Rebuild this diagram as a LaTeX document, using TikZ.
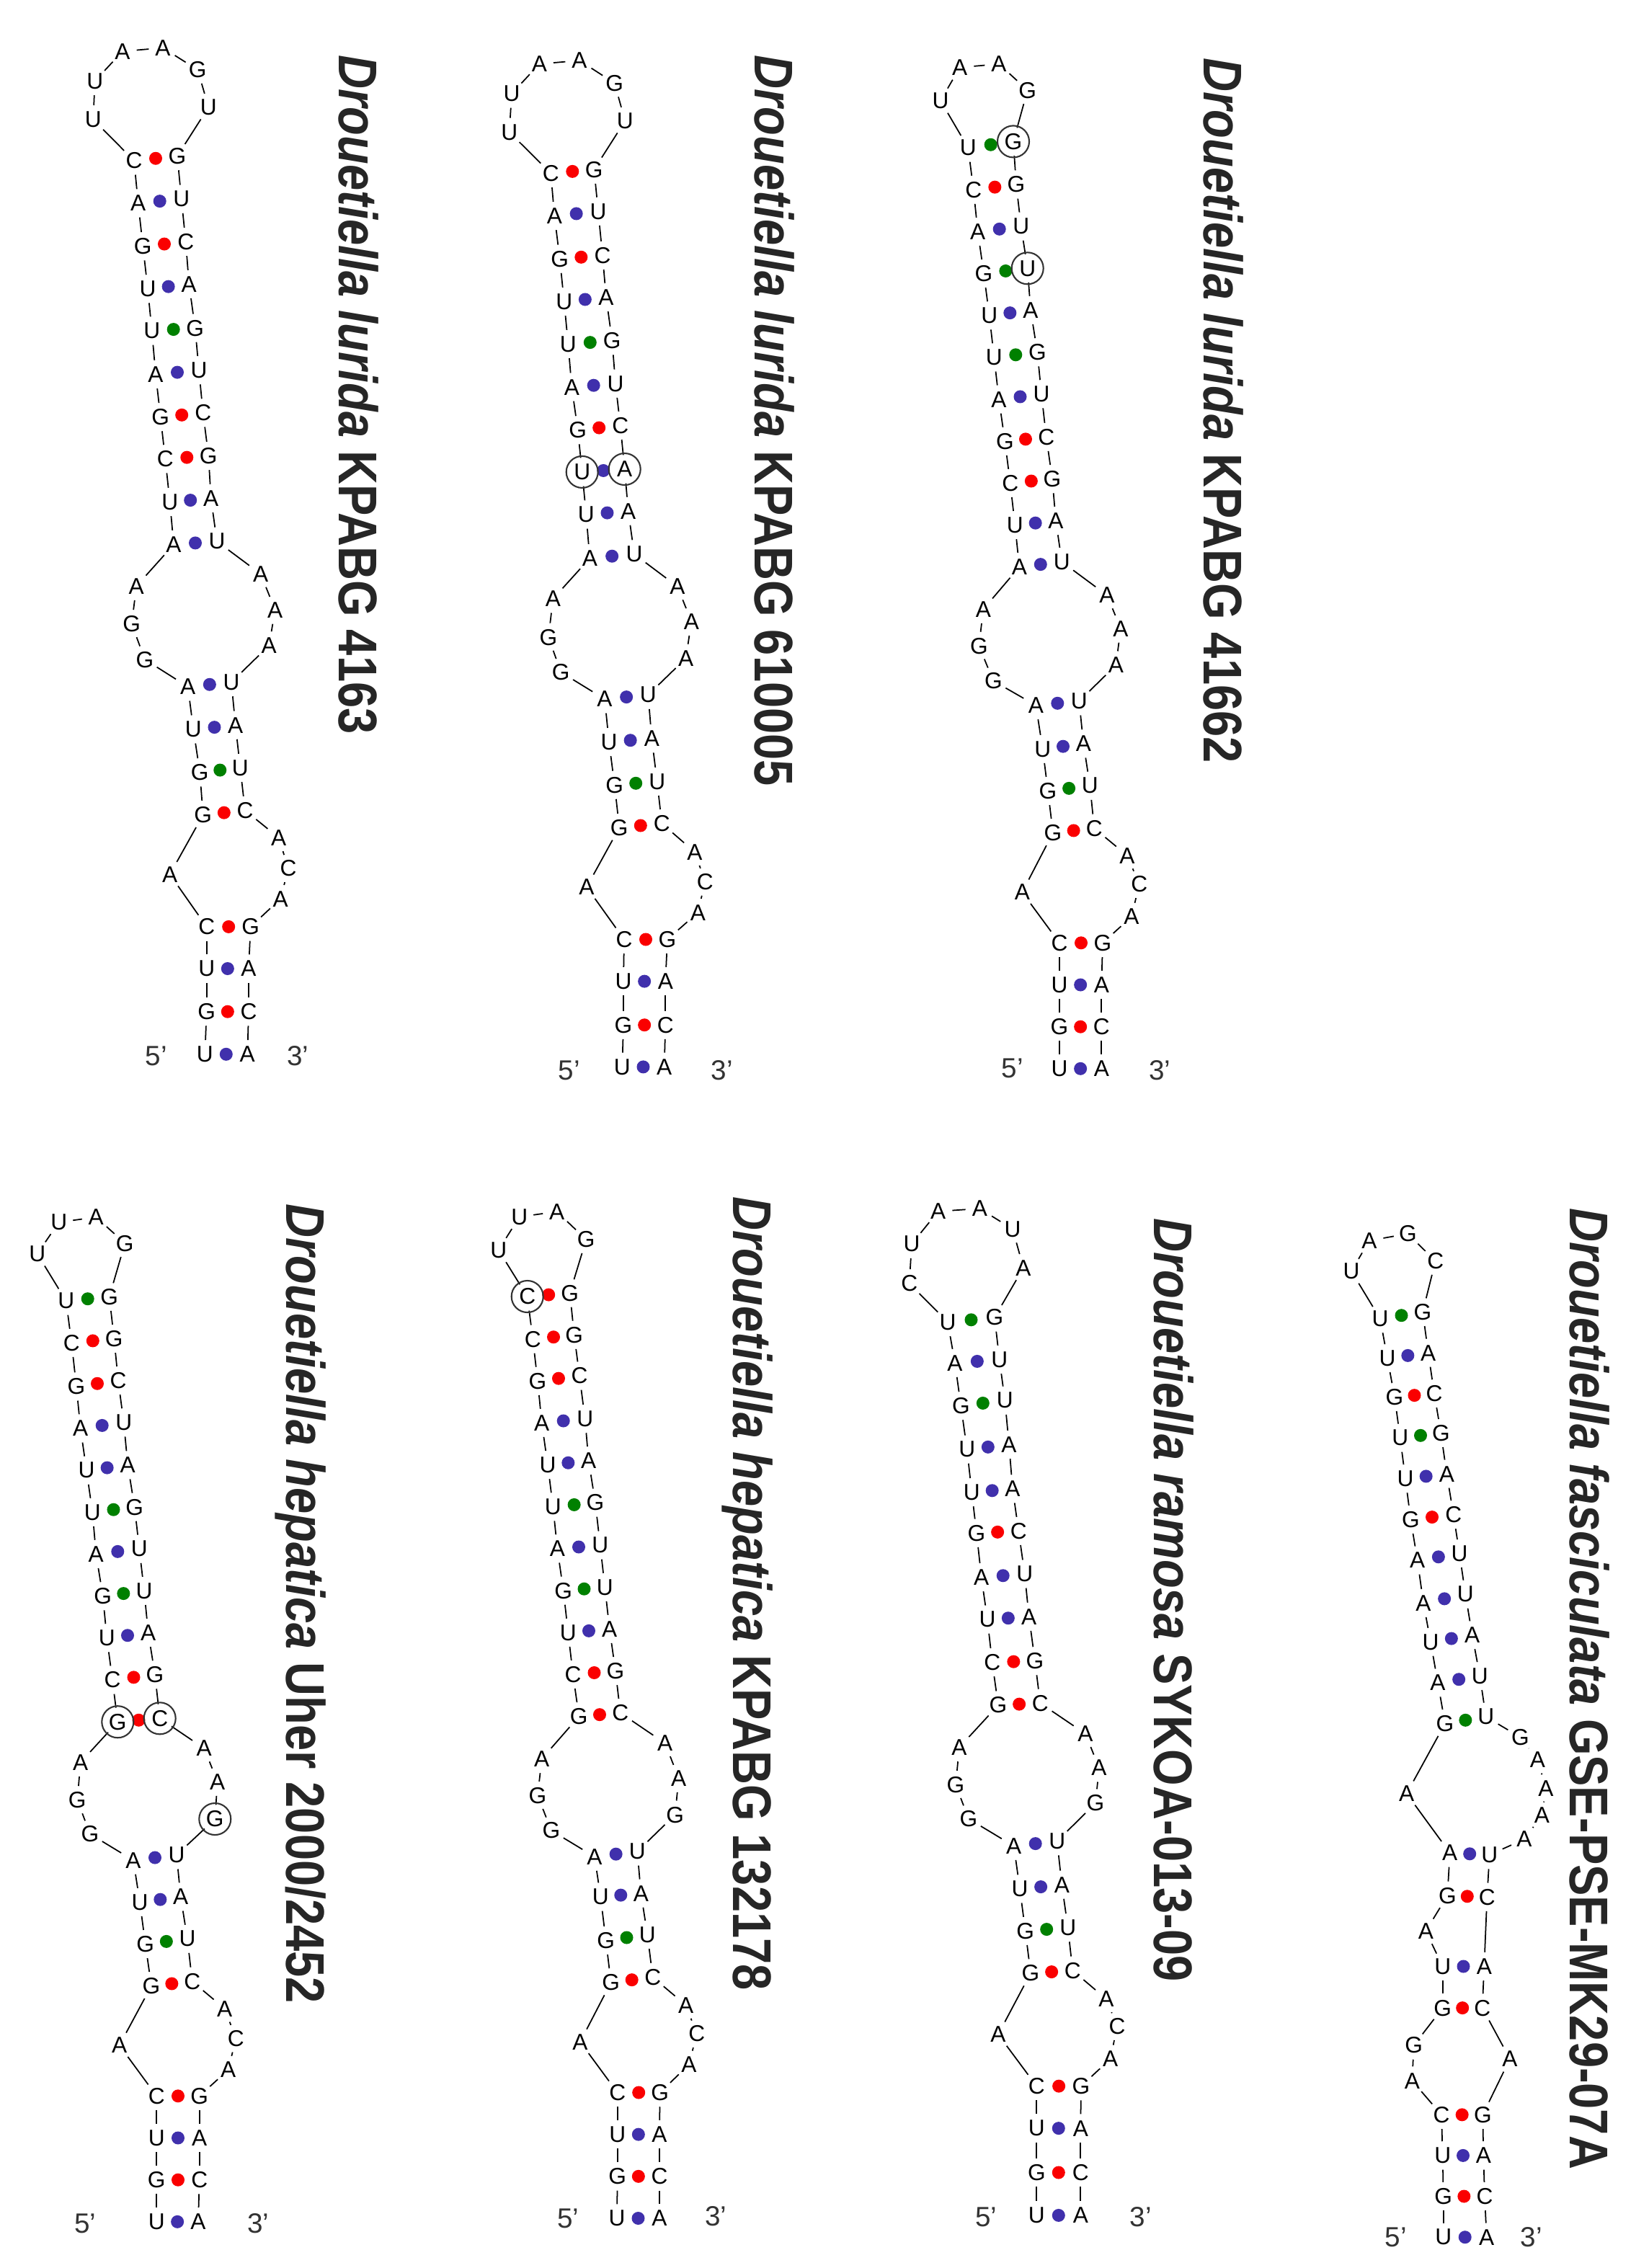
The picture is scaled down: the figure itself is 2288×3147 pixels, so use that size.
\documentclass[tikz,border=0pt]{standalone}
\usepackage{fontspec}
\setmainfont{Liberation Sans}
\usetikzlibrary{calc}
\definecolor{pr}{RGB}{250,0,0}
\definecolor{pb}{RGB}{64,48,172}
\definecolor{pg}{RGB}{0,128,0}
\begin{document}
\begin{tikzpicture}[x=0.01cm, y=-0.01cm,
  nt/.style={circle, inner sep=0pt, minimum size=0.38cm, font=\fontsize{9}{9}\selectfont},
  bb/.style={line width=0.5pt},
  endlbl/.style={inner sep=0pt, text=black!80, font=\fontsize{11}{11}\selectfont},
  ttl/.style={rotate=-90, anchor=west, inner sep=0pt, text=black!85, font=\fontsize{21.5}{21.5}\selectfont\bfseries},
  ring/.style={draw=black!80, line width=0.6pt}]
  \fill[white] (0,0) rectangle (2288,3147);
  \useasboundingbox (0,0) rectangle (2288,3147);

  \foreach \n/\x/\y/\l in {1/284.3/1462.8/U, 2/286.7/1403.7/G, 3/286.7/1344/U, 4/286.7/1285.9/C, 5/235.7/1213.2/A, 6/281.7/1130.8/G, 7/277.3/1071.7/G, 8/268.3/1012/U, 9/260.7/952.9/A, 10/201/915.1/G, 11/182.7/865.7/G, 12/189.3/813.3/A, 13/241/755.6/A, 14/235.7/696.5/U, 15/229.3/636.8/C, 16/222.7/578.7/G, 17/216/519.5/A, 18/210.7/459/U, 19/205/400.8/U, 20/198.3/341.7/G, 21/191.7/282/A, 22/186/222.9/C, 23/129.3/165.7/U, 24/131.7/112.4/U, 25/170/71.2/A, 26/226/66.4/A, 27/274.3/96.9/G, 28/289.3/148.8/U, 29/246/216.6/G, 30/251.7/276.2/U, 31/257.7/335.4/C, 32/262.3/394.5/A, 33/270.7/455.1/G, 34/276/513.7/U, 35/281.7/572.9/C, 36/289.3/632.5/G, 37/292.7/691.6/A, 38/301/751.2/U, 39/361.7/796.4/A, 40/381.7/846.3/A, 41/373.3/895.7/A, 42/321/946.6/U, 43/326.7/1006.2/A, 44/333.3/1065.4/U, 45/340/1124.5/C, 46/386.7/1162.3/A, 47/400/1205/C, 48/389.3/1247.1/A, 49/347.7/1285.9/G, 50/345/1344/A, 51/345/1403.7/C, 52/343.3/1462.8/A}
    \node[nt] (a\n) at (\x,\y) {\l};

  \foreach \n/\x/\y/\l in {1/863.3/1480.4/U, 2/865/1422.2/G, 3/865/1361.6/U, 4/866/1303.5/C, 5/814/1230.8/A, 6/859.3/1148.4/G, 7/852.7/1089.2/G, 8/845/1029.6/U, 9/839/970/A, 10/778.3/932.7/G, 11/761/884.2/G, 12/767.3/830.9/A, 13/818.3/774.6/A, 14/813.3/714/U, 15/807.7/654.9/U, 16/801.7/596.7/G, 17/793.3/537.1/A, 18/788.3/477.5/U, 19/782.7/418.4/U, 20/776.7/359.2/G, 21/769.3/299.6/A, 22/764.3/240.5/C, 23/706.7/183.3/U, 24/710/130/U, 25/748.3/88.8/A, 26/804/83.9/A, 27/852.7/115.4/G, 28/867.3/167.8/U, 29/824.3/235.2/G, 30/830/293.3/U, 31/836/354.4/C, 32/841/412.6/A, 33/849.3/472.7/G, 34/854/532.3/U, 35/860.7/590.4/C, 36/866.7/651/A, 37/871.7/709.2/A, 38/880/768.8/U, 39/940/813.9/A, 40/959.3/862.4/A, 41/951.7/913.3/A, 42/899.3/964.2/U, 43/904.3/1024.8/A, 44/911.7/1084.4/U, 45/918.3/1142.6/C, 46/964/1182.3/A, 47/978.3/1223.5/C, 48/968.3/1266.2/A, 49/926/1303.5/G, 50/923.3/1361.6/A, 51/923.3/1422.2/C, 52/921.7/1480.4/A}
    \node[nt] (b\n) at (\x,\y) {\l};

  \foreach \n/\x/\y/\l in {1/1470/1482.8/U, 2/1470/1424.7/G, 3/1470/1366.5/U, 4/1470/1308.3/C, 5/1418.3/1238/A, 6/1461/1155.6/G, 7/1454/1097.5/G, 8/1446.7/1039.3/U, 9/1437.3/978.7/A, 10/1378.3/944.8/G, 11/1358.3/896.3/G, 12/1364.3/845.4/A, 13/1414.3/786.7/A, 14/1408.3/728.6/U, 15/1401.7/670.4/C, 16/1394.3/612.3/G, 17/1386/554.1/A, 18/1379.3/495.9/U, 19/1372.7/437.8/U, 20/1365/379.6/G, 21/1356.7/321.4/A, 22/1350.7/263.3/C, 23/1343.3/205.1/U, 24/1305/139.7/U, 25/1331.7/93.6/A, 26/1386/88.8/A, 27/1425.7/125.1/G, 28/1406/196.4/G, 29/1410/256/G, 30/1416.7/314.2/U, 31/1425.7/372.3/U, 32/1430/430.5/A, 33/1439.3/488.7/G, 34/1445/546.8/U, 35/1451.7/606.4/C, 36/1460/664.6/G, 37/1465/722.8/A, 38/1473.3/779.5/U, 39/1536/826/A, 40/1555/872.1/A, 41/1548.3/923/A, 42/1497.3/972.9/U, 43/1503.3/1032/A, 44/1512.3/1090.2/U, 45/1518.3/1149.3/C, 46/1564/1187.1/A, 47/1580.7/1226.9/C, 48/1570/1272/A, 49/1530/1308.3/G, 50/1528.3/1366.5/A, 51/1528.3/1424.7/C, 52/1528.3/1482.8/A}
    \node[nt] (c\n) at (\x,\y) {\l};

  \foreach \n/\x/\y/\l in {1/217.3/3082.8/U, 2/217.3/3024.7/G, 3/217.3/2966.5/U, 4/217.3/2908.3/C, 5/165.7/2838/A, 6/210/2755.6/G, 7/201.7/2697.5/G, 8/194/2639.3/U, 9/185/2581.2/A, 10/125/2544.8/G, 11/107.3/2497.8/G, 12/111.7/2445.4/A, 13/163.3/2389.2/G, 14/156/2331/C, 15/148.3/2272.8/U, 16/142.7/2214.7/G, 17/133.3/2156.5/A, 18/128.3/2098.3/U, 19/120/2040.2/U, 20/111.7/1982/A, 21/106/1923.9/G, 22/99.3/1863.3/C, 23/91.7/1805.1/U, 24/51.7/1739.7/U, 25/81.7/1696/U, 26/133.3/1688.8/A, 27/173.3/1725.1/G, 28/151.7/1799.3/G, 29/158.3/1857.5/G, 30/164/1915.6/C, 31/171.7/1973.8/U, 32/177.3/2032.9/A, 33/186.7/2091.1/G, 34/193.3/2149.2/U, 35/200/2207.4/U, 36/205.7/2265.6/A, 37/215/2323.7/G, 38/221.7/2384.3/C, 39/283.3/2426/A, 40/301.7/2472.1/A, 41/298.3/2524/G, 42/245/2573.9/U, 43/250.7/2632/A, 44/260/2690.2/U, 45/266.7/2749.3/C, 46/311.7/2787.1/A, 47/327.3/2828.3/C, 48/316.7/2872/A, 49/276.7/2908.3/G, 50/276.7/2966.5/A, 51/276.7/3024.7/C, 52/275/3082.8/A}
    \node[nt] (d\n) at (\x,\y) {\l};

  \foreach \n/\x/\y/\l in {1/856/3078/U, 2/856.7/3019.8/G, 3/856.7/2961.6/U, 4/856.7/2903.5/C, 5/805/2833.2/A, 6/847.7/2750.8/G, 7/840.7/2692.6/G, 8/833.3/2632/U, 9/825/2576.3/A, 10/765/2540/G, 11/746/2491.5/G, 12/751.7/2440.6/A, 13/803.3/2381.6/G, 14/795/2323.4/C, 15/788.3/2265.3/U, 16/781.7/2207.1/G, 17/773.3/2148.9/A, 18/767.3/2090.8/U, 19/760/2032.6/U, 20/751.7/1974.4/A, 21/746/1916.3/G, 22/739.3/1858.1/C, 23/731.7/1799/C, 24/691.7/1734.5/U, 25/720.7/1688.5/U, 26/772.7/1681.2/A, 27/813.3/1720/G, 28/790.7/1794.1/G, 29/796.7/1852.3/G, 30/804/1909/C, 31/811.7/1968.6/U, 32/816.7/2026.8/A, 33/826/2085/G, 34/832.7/2144.1/U, 35/839.3/2202.3/U, 36/845.7/2260.4/A, 37/854/2318.6/G, 38/860.7/2376.7/C, 39/922.7/2418.8/A, 40/941.7/2467.2/A, 41/936.7/2518.1/G, 42/884.3/2569/U, 43/889.3/2627.2/A, 44/898.3/2684.4/U, 45/905.7/2743.5/C, 46/951.7/2782.3/A, 47/966.7/2822/C, 48/956/2864.7/A, 49/915.7/2903.5/G, 50/915/2961.6/A, 51/915/3019.8/C, 52/915/3078/A}
    \node[nt] (e\n) at (\x,\y) {\l};

  \foreach \n/\x/\y/\l in {1/1438.3/3073.9/U, 2/1438.3/3014.5/G, 3/1438.3/2953.1/U, 4/1438.3/2894.6/C, 5/1385/2822.9/A, 6/1430/2737.9/G, 7/1422.7/2679.4/G, 8/1415/2620.9/U, 9/1406.7/2561.4/A, 10/1344/2523.7/G, 11/1326/2476.5/G, 12/1331/2424.6/A, 13/1385/2366/G, 14/1376.7/2306.6/C, 15/1370/2247.1/U, 16/1361.7/2188.6/A, 17/1355/2127.2/G, 18/1348.3/2070.6/U, 19/1341.7/2011.1/U, 20/1333.3/1950.7/G, 21/1325/1891.3/A, 22/1315/1834.6/U, 23/1261.7/1780.8/C, 24/1265/1726.1/U, 25/1301.7/1680.8/A, 26/1359.3/1677/A, 27/1405/1705.3/U, 28/1420/1759.1/A, 29/1380/1828/G, 30/1386.7/1886.5/U, 31/1394.3/1943.2/U, 32/1400/2004.5/A, 33/1405/2065.9/A, 34/1413.3/2124.4/C, 35/1421.7/2183.9/U, 36/1427.7/2243.3/A, 37/1436/2304.7/G, 38/1443.3/2363.2/C, 39/1506/2405.7/A, 40/1525/2452.9/A, 41/1520/2502/G, 42/1466.7/2554.8/U, 43/1473.3/2615.2/A, 44/1481.7/2674.7/U, 45/1488.3/2734.2/C, 46/1535/2773.8/A, 47/1550/2811.6/C, 48/1540.7/2856.9/A, 49/1500/2894.6/G, 50/1499.3/2953.1/A, 51/1499.3/3014.5/C, 52/1499.3/3073.9/A}
    \node[nt] (f\n) at (\x,\y) {\l};

  \foreach \n/\x/\y/\l in {1/2002.7/3104.2/U, 2/2002.7/3047.5/G, 3/2001.7/2990.9/U, 4/2000/2934.3/C, 5/1959.3/2887.1/A, 6/1961.7/2838/G, 7/2001.7/2786.1/G, 8/2001.7/2728.5/U, 9/1978.3/2679.4/A, 10/2008.3/2630.3/G, 11/2011.7/2570.9/A, 12/1951.7/2488.7/A, 13/2005/2391.5/G, 14/1995/2334.9/A, 15/1985/2278.3/U, 16/1975/2224.5/A, 17/1966.7/2165/A, 18/1957.3/2108.4/G, 19/1950/2051.7/U, 20/1942.7/1995.1/U, 21/1935/1938.5/G, 22/1925/1884.6/U, 23/1915/1829.9/U, 24/1875/1763.8/U, 25/1900/1721.4/A, 26/1953.3/1711.9/G, 27/1991.7/1749.7/C, 28/1974/1820.5/G, 29/1981.7/1877.1/A, 30/1990/1933.7/C, 31/1999.3/1988.5/G, 32/2007.3/2045.1/A, 33/2016.7/2101.7/C, 34/2025/2155.5/U, 35/2033.3/2212.2/U, 36/2042.7/2268.8/A, 37/2053.3/2325.5/U, 38/2061.7/2382.1/U, 39/2109.3/2410.4/G, 40/2133.3/2441.6/A, 41/2145/2481.2/A, 42/2139.3/2519/A, 43/2115/2552/A, 44/2066.7/2573.7/U, 45/2063.3/2632.2/C, 46/2059.3/2728.5/A, 47/2056.7/2786.1/C, 48/2095/2856.9/A, 49/2057.3/2934.3/G, 50/2058.3/2990.9/A, 51/2060/3047.5/C, 52/2062.7/3104.2/A}
    \node[nt] (g\n) at (\x,\y) {\l};

  \foreach \s in {a,b,c,d,e,f,g}
    \foreach \i [count=\j from 2] in {1,...,51}
      \draw[bb] (\s\i) -- (\s\j);

  \foreach \s/\i/\j/\c in {a/1/52/pb, a/2/51/pr, a/3/50/pb, a/4/49/pr, a/6/45/pr, a/7/44/pg, a/8/43/pb, a/9/42/pb, a/13/38/pb, a/14/37/pb, a/15/36/pr, a/16/35/pr, a/17/34/pb, a/18/33/pg, a/19/32/pb, a/20/31/pr, a/21/30/pb, a/22/29/pr,
      b/1/52/pb, b/2/51/pr, b/3/50/pb, b/4/49/pr, b/6/45/pr, b/7/44/pg, b/8/43/pb, b/9/42/pb, b/13/38/pb, b/14/37/pb, b/15/36/pb, b/16/35/pr, b/17/34/pb, b/18/33/pg, b/19/32/pb, b/20/31/pr, b/21/30/pb, b/22/29/pr,
      c/1/52/pb, c/2/51/pr, c/3/50/pb, c/4/49/pr, c/6/45/pr, c/7/44/pg, c/8/43/pb, c/9/42/pb, c/13/38/pb, c/14/37/pb, c/15/36/pr, c/16/35/pr, c/17/34/pb, c/18/33/pg, c/19/32/pb, c/20/31/pg, c/21/30/pb, c/22/29/pr, c/23/28/pg,
      d/1/52/pb, d/2/51/pr, d/3/50/pb, d/4/49/pr, d/6/45/pr, d/7/44/pg, d/8/43/pb, d/9/42/pb, d/13/38/pr, d/14/37/pr, d/15/36/pb, d/16/35/pg, d/17/34/pb, d/18/33/pg, d/19/32/pb, d/20/31/pb, d/21/30/pr, d/22/29/pr, d/23/28/pg,
      e/1/52/pb, e/2/51/pr, e/3/50/pb, e/4/49/pr, e/6/45/pr, e/7/44/pg, e/8/43/pb, e/9/42/pb, e/13/38/pr, e/14/37/pr, e/15/36/pb, e/16/35/pg, e/17/34/pb, e/18/33/pg, e/19/32/pb, e/20/31/pb, e/21/30/pr, e/22/29/pr, e/23/28/pr,
      f/1/52/pb, f/2/51/pr, f/3/50/pb, f/4/49/pr, f/6/45/pr, f/7/44/pg, f/8/43/pb, f/9/42/pb, f/13/38/pr, f/14/37/pr, f/15/36/pb, f/16/35/pb, f/17/34/pr, f/18/33/pb, f/19/32/pb, f/20/31/pg, f/21/30/pb, f/22/29/pg,
      g/1/52/pb, g/2/51/pr, g/3/50/pb, g/4/49/pr, g/7/47/pr, g/8/46/pb, g/10/45/pr, g/11/44/pb, g/13/38/pg, g/14/37/pb, g/15/36/pb, g/16/35/pb, g/17/34/pb, g/18/33/pr, g/19/32/pb, g/20/31/pg, g/21/30/pr, g/22/29/pb, g/23/28/pg}
    \fill[\c] ($(\s\i)!0.5!(\s\j)$) circle (0.09cm);

  \foreach \r in {b15, b36, c28, c31, d13, d38, d41, e23}
    \draw[ring] (\r) circle (0.22cm);

  \foreach \s/\x/\y/\u/\v in {a/216.7/1465.2/413.3/1465.2, b/790/1485.2/1001.7/1485.2, c/1405/1482.8/1609.3/1485.2, d/118.3/3085.2/358.3/3085.2, e/788.3/3078/993.3/3075.5, f/1368.3/3075.9/1582.7/3075.9, g/1936.7/3104.2/2125/3104.2} {
    \node[endlbl] (\s5p) at (\x,\y) {5'};
    \node[endlbl] (\s3p) at (\u,\v) {3'};
  }

  \node[ttl] (ta) at (497,76) {\scalebox{0.86}[1]{\textit{Drouetiella lurida} KPABG 4163}};
  \node[ttl] (tb) at (1074,76) {\scalebox{0.86}[1]{\textit{Drouetiella lurida} KPABG 610005}};
  \node[ttl] (tc) at (1697,80) {\scalebox{0.86}[1]{\textit{Drouetiella lurida} KPABG 41662}};
  \node[ttl] (td) at (417,1670) {\scalebox{0.86}[1]{\textit{Drouetiella hepatica} Uher 2000/2452}};
  \node[ttl] (te) at (1037,1660) {\scalebox{0.86}[1]{\textit{Drouetiella hepatica} KPABG 132178}};
  \node[ttl] (tf) at (1628,1690) {\scalebox{0.86}[1]{\textit{Drouetiella ramosa} SYKOA-013-09}};
  \node[ttl] (tg) at (2206,1676) {\scalebox{0.86}[1]{\textit{Drouetiella fasciculata} GSE-PSE-MK29-07A}};
\end{tikzpicture}
\end{document}
